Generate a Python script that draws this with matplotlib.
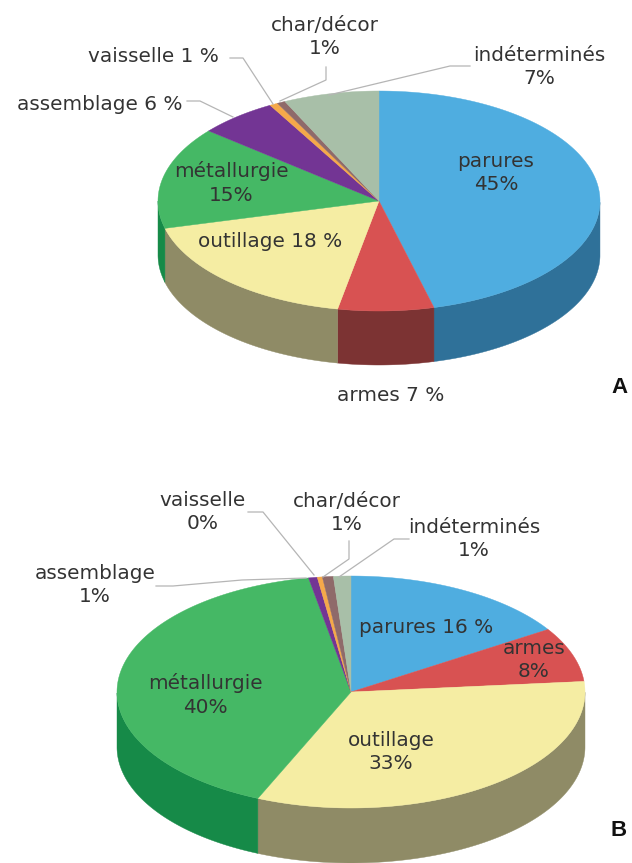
import numpy as np
import matplotlib
matplotlib.use('Agg')
import matplotlib.pyplot as plt

# parts in %, clockwise from 12 o'clock
colors = ['#4FADE0', '#D85252', '#F5EDA3', '#45B865', '#733594', '#F5A94A', '#8F6A6A', '#A8BFA8']
side_colors = ['#2F7199', '#7C3333', '#8F8B66', '#168A48', '#4A1F6A', '#A87430', '#604848', '#70806F']

values_a = [46, 7, 18, 15, 5.8, 0.6, 0.6, 7]
values_b = [15.9, 7.6, 32.9, 40.5, 0.6, 0.35, 0.75, 1.2]

labels_a = [('parures\n45%', 496, 173), ('armes 7 %', 391, 395), ('outillage 18 %', 270, 241),
            ('métallurgie\n15%', 231, 183), ('assemblage 6 %', 100, 105), ('vaisselle 1 %', 153, 56),
            ('char/décor\n1%', 325, 37), ('indéterminés\n7%', 539, 67)]
labels_b = [('parures 16 %', 426, 627), ('armes\n8%', 534, 660), ('outillage\n33%', 391, 752),
            ('métallurgie\n40%', 205, 695), ('assemblage\n1%', 95, 585), ('vaisselle\n0%', 203, 512),
            ('char/décor\n1%', 347, 513), ('indéterminés\n1%', 474, 539)]

leaders_a = [([187, 200, 233], [101, 101, 117]), ([230, 243, 273], [58, 58, 104]),
             ([326, 326, 280], [67, 80, 101]), ([470, 450, 329], [66, 66, 95])]
leaders_b = [([156, 173, 242, 306], [586, 586, 580, 578]), ([248, 263, 314], [512, 512, 575]),
             ([349, 349, 323], [541, 559, 577]), ([409, 394, 339], [539, 539, 577])]


def pie3d(ax, values, cx, cy, rx, ry, depth):
    edges = np.cumsum([0] + values) / sum(values) * 2 * np.pi
    # side wall first, only the front half of the rim shows
    for i in range(len(values)):
        t = np.linspace(edges[i], edges[i + 1], 200)
        t = t[(t > np.pi / 2) & (t < 3 * np.pi / 2)]
        if len(t) < 2:
            continue
        x = cx + rx * np.sin(t)
        y = cy - ry * np.cos(t)
        ax.fill(np.r_[x, x[::-1]], np.r_[y, y[::-1] + depth], color=side_colors[i], lw=0.3)
    for i in range(len(values)):
        t = np.linspace(edges[i], edges[i + 1], 200)
        x = np.r_[cx, cx + rx * np.sin(t)]
        y = np.r_[cy, cy - ry * np.cos(t)]
        ax.fill(x, y, color=colors[i], lw=0.3)


def put_labels(ax, labels, leaders):
    for x, y in leaders:
        ax.plot(x, y, color='#B5B5B5', lw=0.9)
    for txt, x, y in labels:
        ax.text(x, y, txt, ha='center', va='center', fontsize=14.4, color='#333333', linespacing=1.27)


plt.rcParams['font.family'] = ['DejaVu Sans']
fig = plt.figure(figsize=(6.32, 8.63), dpi=100)
ax = fig.add_axes([0, 0, 1, 1])
ax.set_xlim(0, 632)
ax.set_ylim(863, 0)
ax.axis('off')

pie3d(ax, values_a, 379, 201, 221, 110, 54)
pie3d(ax, values_b, 351, 692, 234, 116, 55)
put_labels(ax, labels_a, leaders_a)
put_labels(ax, labels_b, leaders_b)

ax.text(619, 387, 'A', ha='center', va='center', fontsize=16, fontweight='bold', color='#111111', family='Liberation Sans')
ax.text(619, 830, 'B', ha='center', va='center', fontsize=16, fontweight='bold', color='#111111', family='Liberation Sans')

fig.savefig('out.png', dpi=100)
